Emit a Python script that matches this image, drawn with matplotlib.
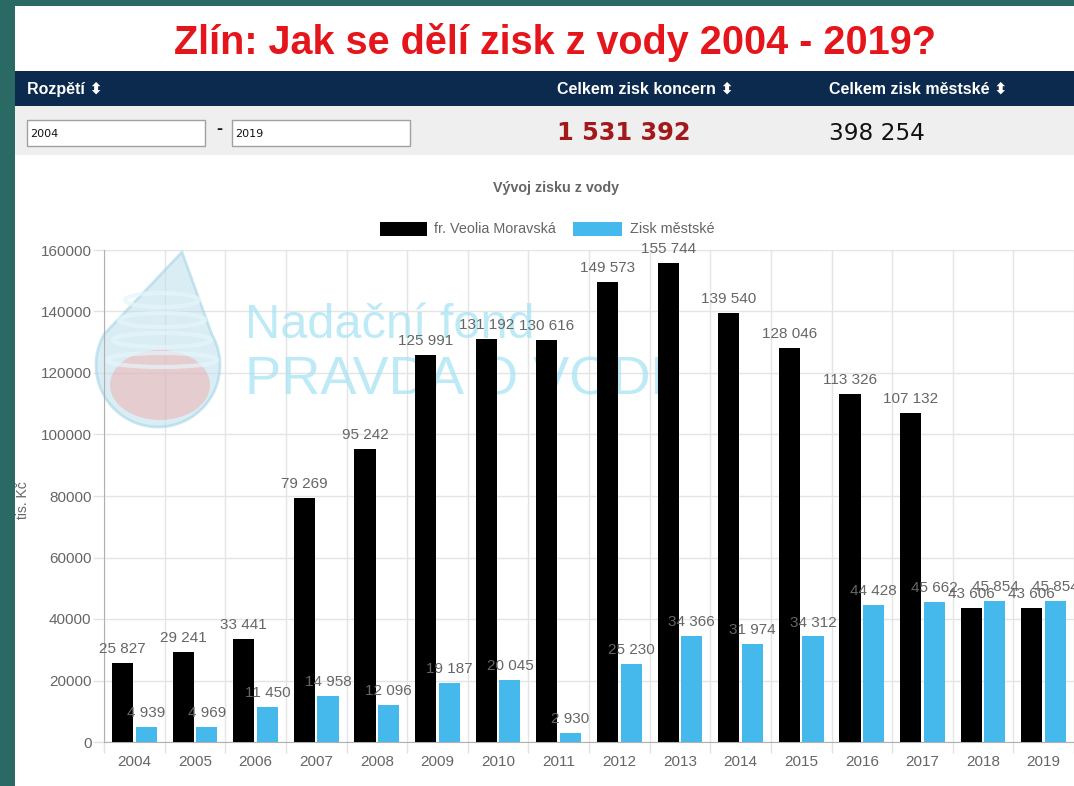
import matplotlib
matplotlib.use('Agg')
import matplotlib.pyplot as plt
from matplotlib.patches import Rectangle, Polygon, Ellipse
from matplotlib.ticker import FixedLocator
import numpy as np

# ---------------- data ----------------
years = ['2004', '2005', '2006', '2007', '2008', '2009', '2010', '2011',
         '2012', '2013', '2014', '2015', '2016', '2017', '2018', '2019']
veolia = [25827, 29241, 33441, 79269, 95242, 125991, 131192, 130616,
          149573, 155744, 139540, 128046, 113326, 107132, 43606, 43606]
mestske = [4939, 4969, 11450, 14958, 12096, 19187, 20045, 2930,
           25230, 34366, 31974, 34312, 44428, 45662, 45854, 45854]
series_names = ['fr. Veolia Moravská', 'Zisk městské']
series_colors = ['#000000', '#45b9ec']
y_ticks = [0, 20000, 40000, 60000, 80000, 100000, 120000, 140000, 160000]
total_koncern = '1 531 392'
total_mestske = '398 254'
range_from, range_to = '2004', '2019'
title = 'Zlín: Jak se dělí zisk z vody 2004 - 2019?'
chart_title = 'Vývoj zisku z vody'
y_label = 'tis. Kč'
header_cols = ['Rozpětí', 'Celkem zisk koncern', 'Celkem zisk městské']

# ---------------- figure ----------------
W, H = 1074, 786
fig = plt.figure(figsize=(W / 100, H / 100), dpi=100)
fig.patch.set_facecolor('#2a6964')
SANS = ['Liberation Sans', 'DejaVu Sans']


def fx(x):
    return x / W


def fy(y):
    return 1 - y / H


def rect(x0, y0, x1, y1, **kw):
    r = Rectangle((fx(x0), fy(y1)), fx(x1) - fx(x0), fy(y0) - fy(y1),
                  transform=fig.transFigure, **kw)
    fig.add_artist(r)
    return r


def ftext(x, y, s, **kw):
    kw.setdefault('family', SANS)
    return fig.text(fx(x), fy(y), s, **kw)


# white panel
rect(15, 6, W + 2, H + 2, facecolor='white', edgecolor='none', zorder=0)

# title
ftext(555, 42, title, color='#e4161c', fontsize=28.5, fontweight='bold',
      ha='center', va='center', zorder=2)

# navy header
rect(15, 71, W + 2, 106, facecolor='#0b2a4e', edgecolor='none', zorder=1)
arrow = ' \u2b0d'
for (xx, lbl) in zip([27, 557, 829], header_cols):
    ftext(xx, 89, lbl + arrow, color='white', fontsize=11.5, fontweight='bold',
          ha='left', va='center', zorder=2)

# gray row
rect(15, 106, W + 2, 155, facecolor='#efefef', edgecolor='none', zorder=1)
rect(27, 120, 205, 146, facecolor='white', edgecolor='#a0a0a0', linewidth=1, zorder=2)
rect(232, 120, 410, 146, facecolor='white', edgecolor='#a0a0a0', linewidth=1, zorder=2)
ftext(30, 134, range_from, fontsize=8, color='#111111', ha='left', va='center', zorder=3,
      family=['DejaVu Sans'])
ftext(235, 134, range_to, fontsize=8, color='#111111', ha='left', va='center', zorder=3,
      family=['DejaVu Sans'])
ftext(219, 130, '-', fontsize=13, color='#111111', ha='center', va='center', zorder=3,
      fontweight='bold')
ftext(557, 133, total_koncern, fontsize=17.3, color='#a3181b', fontweight='bold',
      ha='left', va='center', zorder=3, family=['DejaVu Sans'])
ftext(829, 133, total_mestske, fontsize=16.7, color='#111111',
      ha='left', va='center', zorder=3, family=['DejaVu Sans'])

# chart title
ftext(556, 188, chart_title, fontsize=10.3, color='#666666', fontweight='bold',
      ha='center', va='center', zorder=3)

# legend (manual)
rect(380, 222, 427, 236, facecolor=series_colors[0], edgecolor='none', zorder=3)
ftext(434, 229, series_names[0], fontsize=10.4, color='#666666', ha='left', va='center', zorder=3)
rect(573, 222, 622, 236, facecolor=series_colors[1], edgecolor='none', zorder=3)
ftext(630, 229, series_names[1], fontsize=10.4, color='#666666', ha='left', va='center', zorder=3)

# y label
ftext(23, 500, y_label, fontsize=10, color='#666666', rotation=90,
      ha='center', va='center', zorder=3)

# ---------------- axes ----------------
ax_l, ax_r, ax_t, ax_b = 104, W, 250, 742
ax = fig.add_axes([fx(ax_l), fy(ax_b), fx(ax_r) - fx(ax_l), fy(ax_t) - fy(ax_b)])
ax.set_facecolor('none')
ax.set_zorder(5)

x = np.arange(len(years))
bw = 0.35
off = 0.195
b1 = ax.bar(x - off, veolia, bw, color=series_colors[0], zorder=3)
b2 = ax.bar(x + off, mestske, bw, color=series_colors[1], zorder=3)

ax.set_xlim(-0.5, len(years) - 0.5)
ax.set_ylim(0, 160000)

ax.yaxis.set_major_locator(FixedLocator(y_ticks))
ax.set_yticklabels([str(t) for t in y_ticks])
ax.set_xticks(x)
ax.set_xticklabels(years)
ax.set_xticks(np.arange(-0.5, len(years) + 0.5, 1.0), minor=True)

for lbl in ax.get_xticklabels() + ax.get_yticklabels():
    lbl.set_family(SANS)
ax.tick_params(axis='x', which='major', length=0, pad=9, labelsize=11, labelcolor='#666666')
ax.tick_params(axis='x', which='minor', length=8, color='#e2e2e2', width=1)
ax.tick_params(axis='y', which='major', length=8, color='#e2e2e2', width=1,
               pad=1, labelsize=11, labelcolor='#666666')

ax.grid(True, axis='y', which='major', color='#e4e4e4', linewidth=1, zorder=0)
ax.grid(True, axis='x', which='minor', color='#e4e4e4', linewidth=1, zorder=0)
ax.grid(False, axis='x', which='major')
ax.set_axisbelow(True)

for s in ['top', 'right']:
    ax.spines[s].set_visible(False)
ax.spines['left'].set_color('#b0b0b0')
ax.spines['bottom'].set_color('#b0b0b0')
ax.spines['left'].set_zorder(1)
ax.spines['bottom'].set_zorder(1)


def fmt(v):
    return f'{v:,}'.replace(',', ' ')


for bars, vals in [(b1, veolia), (b2, mestske)]:
    for rct, v in zip(bars, vals):
        ax.annotate(fmt(v), (rct.get_x() + rct.get_width() / 2, v),
                    xytext=(0, 5), textcoords='offset points',
                    ha='center', va='bottom', fontsize=11, color='#666666',
                    family=SANS, zorder=4, annotation_clip=False)

# ---------------- watermark (behind bars) ----------------
wm_col = '#a6e3f3'
cx, cy, r = 158, 365, 62
arc = [(cx + r * np.cos(t), cy + r * np.sin(t))
       for t in np.linspace(np.radians(-30), np.radians(210), 60)]
drop = [(fx(a), fy(b)) for a, b in [(182, 252)] + arc[::-1]]
ax.add_patch(Polygon(drop, closed=True, transform=fig.transFigure, facecolor='#bfdfeb',
                     edgecolor='#9dd3e6', linewidth=2, alpha=0.55, zorder=0.6, clip_on=False))
ax.add_patch(Ellipse((fx(160), fy(385)), fx(100), 70 / H, transform=fig.transFigure,
                     facecolor='#f2a4a4', edgecolor='none', alpha=0.45, zorder=0.7, clip_on=False))
for yy in [300, 320, 340, 360]:
    ax.add_patch(Ellipse((fx(162), fy(yy)), fx(110 - (360 - yy) * 0.6), 14 / H,
                         transform=fig.transFigure, facecolor='none', edgecolor='#e6f6fb',
                         linewidth=3, alpha=0.7, zorder=0.8, clip_on=False))

t1 = ax.text(fx(245), fy(338), 'Nadační fond', transform=fig.transFigure,
             fontsize=35, color=wm_col, alpha=0.75, family=SANS,
             ha='left', va='baseline', zorder=1)
t2 = ax.text(fx(245), fy(393), 'PRAVDA O VODĚ', transform=fig.transFigure,
             fontsize=39, color=wm_col, alpha=0.75, family=SANS,
             ha='left', va='baseline', zorder=1)
clip = Rectangle((0, 0), fx(660), 1, transform=fig.transFigure)
t2.set_clip_path(clip)
t2.set_clip_on(True)

fig.savefig('out.png', dpi=100, facecolor=fig.get_facecolor())
